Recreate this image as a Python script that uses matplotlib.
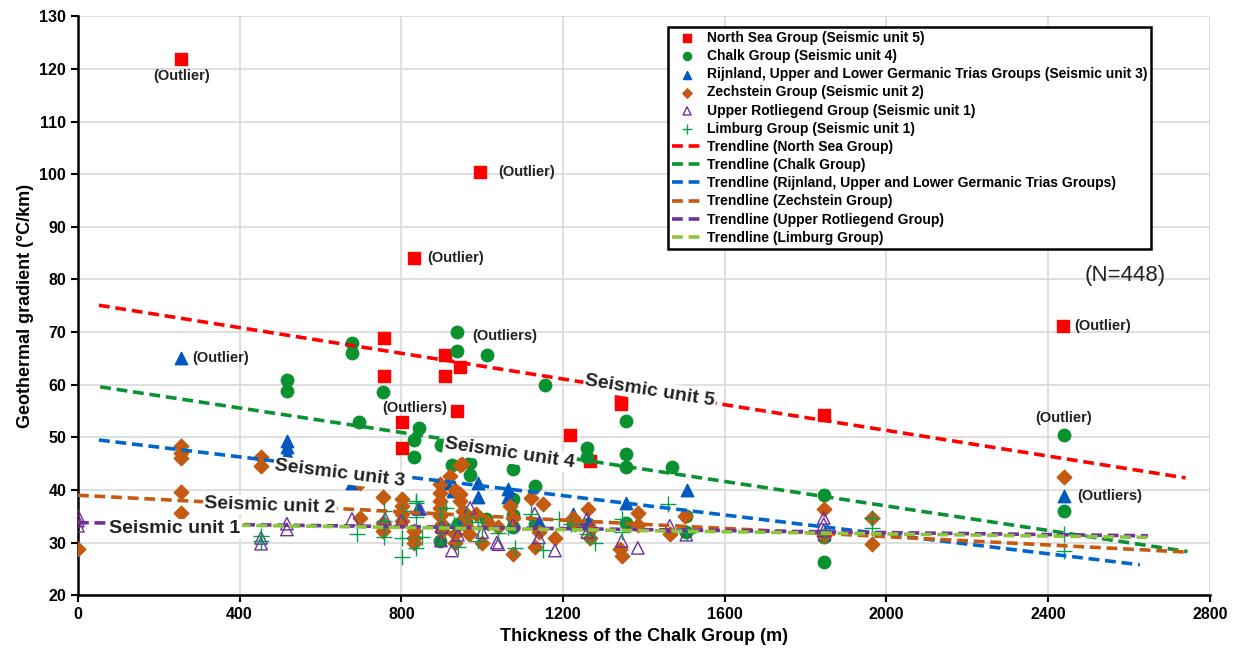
import matplotlib
matplotlib.use("Agg")
import matplotlib.pyplot as plt

plt.rcParams['font.family'] = ['Liberation Sans', 'DejaVu Sans']

# --- data ---
north_sea_x = [255, 994, 831, 2437, 757, 757, 908, 908, 945, 937, 801, 801, 1217, 1268, 1343, 1343, 1845]
north_sea_y = [121.8, 100.4, 84.0, 71.2, 68.8, 61.6, 65.6, 61.6, 63.4, 55.0, 52.9, 48.0, 50.4, 45.6, 57.2, 56.3, 54.2]

chalk_x = [517, 517, 678, 678, 695, 755, 844, 831, 831, 898, 937, 937, 1011, 925, 970, 970,
           1076, 1076, 1076, 1155, 1259, 1259, 1130, 1355, 1357, 1357, 1469, 1845, 1845, 2439, 2439,
           895, 900, 960, 1076, 1010, 1357, 1505, 1505, 1262, 1225, 1845, 1130, 940]
chalk_y = [60.9, 58.8, 67.9, 66.1, 53.0, 58.6, 51.8, 49.5, 46.3, 48.5, 70.0, 66.5, 65.6, 44.8, 45.2, 42.8,
           44.0, 38.2, 35.2, 59.9, 48.0, 46.3, 40.8, 53.1, 46.8, 44.3, 44.3, 39.0, 26.3, 50.4, 36.0,
           30.4, 32.5, 34.0, 33.0, 34.5, 33.8, 32.0, 35.0, 33.5, 33.5, 31.0, 33.5, 33.5]

rijnland_x = [255, 517, 517, 517, 678, 928, 990, 990, 1064, 1064, 1225, 1357, 1506, 2439, 841, 912, 955, 1140, 1262, 1845]
rijnland_y = [65.1, 49.4, 48.1, 46.9, 41.3, 39.9, 41.3, 38.6, 40.2, 38.7, 35.5, 37.5, 40.0, 38.8, 36.6, 41.4, 34.5, 34.0, 34.0, 31.6]

zechstein_x = [0, 255, 255, 255, 255, 255, 453, 453, 697, 697, 755, 755, 755, 801, 801, 801, 801,
               831, 831, 831, 895, 895, 895, 895, 895, 900, 900, 920, 932, 932, 932, 945, 945, 945,
               950, 952, 957, 962, 968, 1014, 1076, 1076, 1130, 1150, 1180, 1225, 1262, 1266, 1341, 1345,
               1385, 1385, 1464, 1501, 1845, 1845, 1964, 1964, 2439, 1120, 1040, 985, 1000, 1230, 1270, 1140, 1070]
zechstein_y = [28.8, 48.4, 47.1, 46.0, 39.7, 35.6, 46.2, 44.5, 41.3, 34.7, 38.7, 33.7, 32.3, 38.2, 37.0, 35.5, 34.2,
               32.3, 30.9, 30.0, 41.2, 39.5, 38.0, 36.5, 35.0, 33.5, 32.2, 42.7, 40.0, 31.7, 30.0, 44.7, 39.3, 38.0,
               45.0, 36.1, 34.8, 32.9, 31.7, 33.7, 34.7, 27.9, 29.1, 37.4, 30.9, 34.7, 36.4, 30.9, 28.8, 27.5,
               35.7, 33.4, 31.7, 35.1, 36.3, 31.2, 34.7, 29.8, 42.5, 38.5, 33.0, 35.5, 30.0, 33.5, 32.5, 32.0, 37.0]

rotliegend_x = [0, 0, 0, 453, 453, 517, 517, 678, 801, 846, 898, 925, 970, 1036, 1040, 1130, 1180, 1259,
                1345, 1385, 1464, 1845, 1845, 1845, 900, 940, 1000, 1076, 1140, 1505, 1260, 760]
rotliegend_y = [35.1, 34.2, 33.2, 30.9, 29.8, 33.6, 32.5, 34.5, 34.2, 36.4, 30.4, 28.5, 36.6, 30.0, 29.7, 35.5, 28.5, 34.5,
                30.3, 29.0, 33.2, 34.7, 33.5, 32.3, 33.0, 31.5, 32.0, 33.5, 31.0, 31.5, 32.0, 34.5]

limburg_x = [453, 453, 690, 757, 757, 757, 757, 801, 801, 801, 836, 836, 836, 836, 895, 898, 940, 990, 990,
             1040, 1065, 1150, 1190, 1260, 1345, 1345, 1460, 1506, 1845, 1964, 1964, 2439, 2439,
             910, 960, 1000, 1120, 1220, 1280, 1080, 930, 850]
limburg_y = [31.3, 30.3, 31.7, 36.1, 34.2, 31.0, 33.0, 36.1, 30.9, 27.3, 37.6, 34.8, 28.9, 38.0, 35.5, 33.0, 29.1, 30.4, 34.0,
             31.9, 33.0, 28.6, 34.5, 31.7, 34.5, 32.0, 37.4, 31.9, 31.7, 34.7, 32.8, 31.7, 28.5,
             36.5, 35.0, 32.5, 35.5, 33.5, 30.0, 29.0, 33.5, 31.0]

# trendline end points (x0, x1), (y0, y1)
trend_north_sea = ([52, 2740], [75.1, 42.3])
trend_chalk = ([55, 2745], [59.6, 28.3])
trend_rijnland = ([52, 2627], [49.5, 25.8])
trend_zechstein = ([0, 2745], [39.0, 28.2])
trend_rotliegend = ([0, 2647], [33.8, 31.3])
trend_limburg = ([400, 2645], [33.3, 31.0])

fig = plt.figure(figsize=(12.37, 6.52), dpi=100)
ax = fig.add_axes([0.063, 0.087, 0.915, 0.888])

ax.scatter(north_sea_x, north_sea_y, marker='s', s=80, color='#FF0000', zorder=3,
           label='North Sea Group (Seismic unit 5)')
ax.scatter(chalk_x, chalk_y, marker='o', s=80, color='#0A9130', zorder=3,
           label='Chalk Group (Seismic unit 4)')
ax.scatter(rijnland_x, rijnland_y, marker='^', s=80, color='#0058C0', zorder=3,
           label='Rijnland, Upper and Lower Germanic Trias Groups (Seismic unit 3)')
ax.scatter(zechstein_x, zechstein_y, marker='D', s=55, color='#C55A11', zorder=3,
           label='Zechstein Group (Seismic unit 2)')
ax.scatter(rotliegend_x, rotliegend_y, marker='^', s=80, facecolors='none', edgecolors='#7030A0',
           linewidths=1.0, zorder=3, label='Upper Rotliegend Group (Seismic unit 1)')
ax.scatter(limburg_x, limburg_y, marker='+', s=120, color='#00A050', linewidths=1.0, zorder=3,
           label='Limburg Group (Seismic unit 1)')

dash = (3, 1.6)
ax.plot(*trend_north_sea, color='#FF0000', lw=2.6, dashes=dash, zorder=4, label='Trendline (North Sea Group)')
ax.plot(*trend_chalk, color='#0A9130', lw=2.6, dashes=dash, zorder=4, label='Trendline (Chalk Group)')
ax.plot(*trend_rijnland, color='#0066CC', lw=2.6, dashes=dash, zorder=4,
        label='Trendline (Rijnland, Upper and Lower Germanic Trias Groups)')
ax.plot(*trend_zechstein, color='#C55A11', lw=2.6, dashes=dash, zorder=4, label='Trendline (Zechstein Group)')
ax.plot(*trend_rotliegend, color='#7030A0', lw=2.6, dashes=dash, zorder=4, label='Trendline (Upper Rotliegend Group)')
ax.plot(*trend_limburg, color='#8CC63F', lw=2.6, dashes=dash, zorder=4, label='Trendline (Limburg Group)')

ax.set_xlim(0, 2800)
ax.set_ylim(20, 130)
ax.set_xticks(range(0, 2801, 400))
ax.set_yticks(range(20, 131, 10))
ax.grid(True, color='#D9D9D9', lw=1.2, zorder=0)
ax.set_axisbelow(True)
for s in ['top', 'right']:
    ax.spines[s].set_visible(False)
for s in ['left', 'bottom']:
    ax.spines[s].set_linewidth(1.8)
ax.tick_params(axis='both', labelsize=11.5, width=1.5, length=5)
for lab in ax.get_xticklabels() + ax.get_yticklabels():
    lab.set_fontweight('bold')
ax.set_xlabel('Thickness of the Chalk Group (m)', fontsize=13, fontweight='bold')
ax.set_ylabel('Geothermal gradient (\u00b0C/km)', fontsize=13, fontweight='bold')

# outlier notes
note = dict(fontsize=10.5, fontweight='bold', color='#222222', zorder=5)
ax.text(257, 118.6, '(Outlier)', ha='center', va='center', **note)
ax.text(1040, 100.4, '(Outlier)', ha='left', va='center', **note)
ax.text(863, 84.0, '(Outlier)', ha='left', va='center', **note)
ax.text(2465, 71.1, '(Outlier)', ha='left', va='center', **note)
ax.text(284, 65.0, '(Outlier)', ha='left', va='center', **note)
ax.text(975, 69.3, '(Outliers)', ha='left', va='center', **note)
ax.text(833, 55.6, '(Outliers)', ha='center', va='center', **note)
ax.text(2439, 53.6, '(Outlier)', ha='center', va='center', **note)
ax.text(2472, 38.9, '(Outliers)', ha='left', va='center', **note)

unit = dict(fontsize=14, fontweight='bold', color='#222222', ha='center', va='center', zorder=6,
            bbox=dict(facecolor='white', edgecolor='none', pad=1.0))
ax.text(1415, 58.9, 'Seismic unit 5', rotation=-9, **unit)
ax.text(1068, 46.9, 'Seismic unit 4', rotation=-8.5, **unit)
ax.text(648, 43.1, 'Seismic unit 3', rotation=-7, **unit)
ax.text(475, 37.0, 'Seismic unit 2', rotation=-2, **unit)
ax.text(240, 32.6, 'Seismic unit 1', rotation=0, **unit)

ax.text(2590, 80.8, '(N=448)', fontsize=16, ha='center', va='center', color='#222222')

leg = ax.legend(loc='upper left', bbox_to_anchor=(0.521, 0.982), prop={'weight': 'bold', 'size': 10},
                frameon=True, fancybox=False, edgecolor='black', framealpha=1, borderpad=0.3,
                labelspacing=0.3, handlelength=2.2, handletextpad=0.3, markerscale=0.65, borderaxespad=0)
leg.get_frame().set_linewidth(1.8)
leg.set_zorder(7)

fig.savefig('out.png', dpi=100)
